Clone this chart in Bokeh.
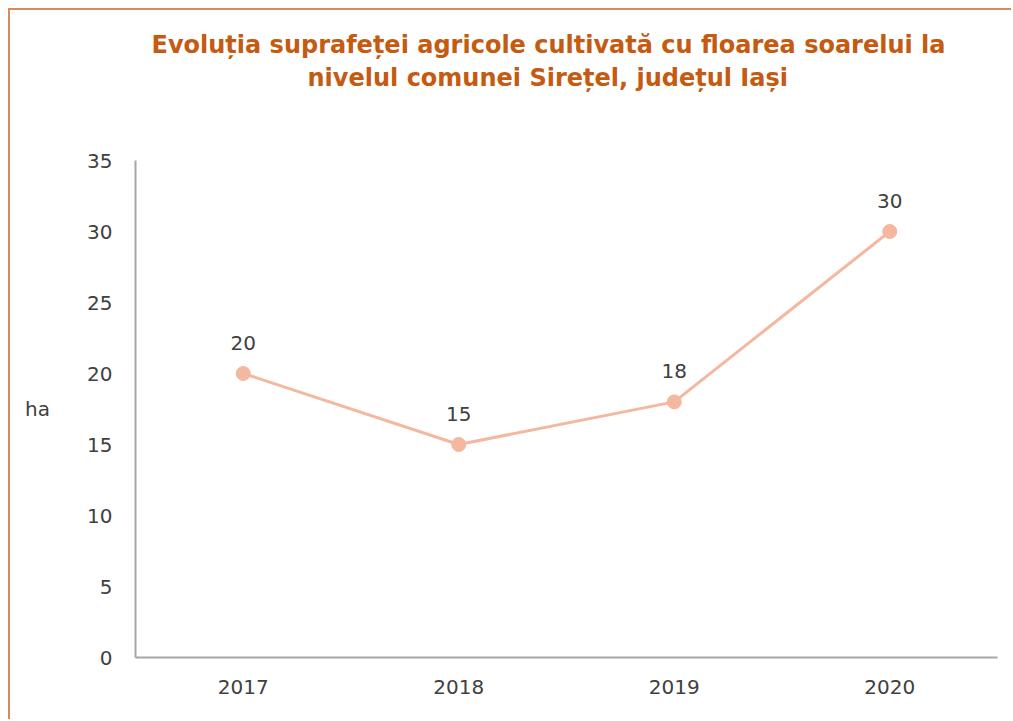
from bokeh.plotting import figure
from bokeh.models import ColumnDataSource, LabelSet, Title, Range1d, FactorRange
from bokeh.core.properties import value
from bokeh.embed import file_html
from bokeh.resources import INLINE

years = ["2017", "2018", "2019", "2020"]
area_ha = [20, 15, 18, 30]
y_ticks = [0, 5, 10, 15, 20, 25, 30, 35]
title_lines = ["Evoluția suprafeței agricole cultivată cu floarea soarelui la",
               "nivelul comunei Sirețel, județul Iași"]
y_label = "ha"

FONT = "DejaVu Sans"
TEXT = "#404040"
LINE = "#f4b7a0"
TITLE_C = "#c55a11"
W, H = 1003, 711

src = ColumnDataSource(dict(x=years, y=area_ha, lab=[str(v) for v in area_ha]))

p = figure(width=W, height=H, x_range=FactorRange(*years), y_range=Range1d(0, 35),
           output_backend="svg", toolbar_location=None, tools="",
           min_border_left=125, min_border_right=16, min_border_top=150, min_border_bottom=64)
p.margin = (8, 0, 0, 8)
p.styles = {"border-left": "2px solid #d98a55", "border-top": "2px solid #d98a55"}
p.outline_line_color = None
p.xgrid.grid_line_color = None
p.ygrid.grid_line_color = None

p.line("x", "y", source=src, line_color=LINE, line_width=3)
p.scatter("x", "y", source=src, size=14, fill_color=LINE, line_color=LINE)

labels = LabelSet(x="x", y="y", text="lab", source=src, y_offset=31,
                  text_align="center", text_baseline="middle",
                  text_font=value(FONT), text_font_size="20px", text_color=TEXT)
p.add_layout(labels)

for ax in (p.xaxis[0], p.yaxis[0]):
    ax.axis_line_color = "#a6a6a6"
    ax.axis_line_width = 2
    ax.major_tick_line_color = None
    ax.minor_tick_line_color = None
    ax.major_label_text_font = FONT
    ax.major_label_text_font_size = "20px"
    ax.major_label_text_color = TEXT

p.yaxis.ticker = y_ticks
p.yaxis.major_label_standoff = 17
p.xaxis.major_label_standoff = 16

p.yaxis.axis_label = y_label
p.yaxis.axis_label_orientation = "horizontal"
p.yaxis.axis_label_standoff = 34
p.yaxis.axis_label_text_font = FONT
p.yaxis.axis_label_text_font_size = "20px"
p.yaxis.axis_label_text_font_style = "normal"
p.yaxis.axis_label_text_color = TEXT

# spacer panel between the frame and the two title lines
p.add_layout(Title(text=" ", text_font=FONT, text_font_size="10px", standoff=54), "above")
# closest title line first, the farther line added after; left-aligned with offsets
title_offsets = [172, 16]
for t, off in zip(reversed(title_lines), title_offsets):
    p.add_layout(Title(text=t, align="left", offset=off, standoff=3,
                       text_font=FONT, text_font_size="24px", text_font_style="bold",
                       text_color=TITLE_C), "above")

open("out.html", "w").write(file_html(p, INLINE))
